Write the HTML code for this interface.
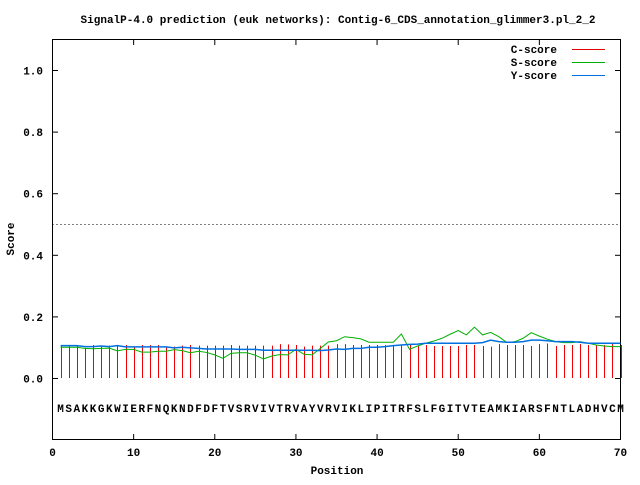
<!DOCTYPE html>
<html><head><meta charset="utf-8"><style>
body{margin:0;background:#fff}
svg text{font-family:"Liberation Mono",monospace;font-weight:bold;font-size:11px;fill:#000}
</style></head><body>
<svg id="chart" width="640" height="480" xmlns="http://www.w3.org/2000/svg">
<text x="338" y="23" text-anchor="middle">SignalP-4.0 prediction (euk networks): Contig-6_CDS_annotation_glimmer3.pl_2_2</text>
<rect x="52.5" y="39.5" width="568" height="400" fill="none" stroke="#000" stroke-width="1"/>
<g id="axes"></g>
<g id="marks"></g>
<text transform="translate(14,239) rotate(-90)" text-anchor="middle">Score</text>
<text x="337" y="474" text-anchor="middle">Position</text>
<g>
<text x="557" y="53" text-anchor="end">C-score</text>
<line x1="572" y1="49.5" x2="605" y2="49.5" stroke="#e00000"/>
<text x="557" y="66" text-anchor="end">S-score</text>
<line x1="572" y1="62.5" x2="605" y2="62.5" stroke="#00b000"/>
<text x="557" y="79" text-anchor="end">Y-score</text>
<line x1="572" y1="75.5" x2="605" y2="75.5" stroke="#0070e0"/>
</g>
</svg>
<script>
const sequence = "MSAKKGKWIERFNQKNDFDFTVSRVIVTRVAYVRVIKLIPITRFSLFGITVTEAMKIARSFNTLADHVCM";
const cScore = [0.107,0.107,0.107,0.098,0.107,0.102,0.105,0.107,0.107,0.102,0.107,0.107,0.107,0.102,0.102,0.105,0.107,0.105,0.105,0.105,0.105,0.107,0.105,0.105,0.105,0.105,0.105,0.110,0.109,0.107,0.102,0.105,0.105,0.105,0.110,
0.110,0.107,0.107,0.107,0.107,0.107,0.107,0.107,0.110,0.104,0.107,0.104,0.104,0.104,0.104,0.107,0.107,0.104,0.102,0.110,0.107,0.107,0.107,0.104,0.110,0.112,0.104,0.107,0.107,0.110,0.107,0.107,0.107,0.110,0.107];
const sZ = [142,142,142,145,146,145,144,153,148,148,156,156,154,154,149,152,158,154,157,165,175,160,158,158,166,177,168,164,165,148,163,165,145,126,122,110,113,117,127,127,127,127,102,148,138,130,123,115,103,92,105,82,105,97,110,128,125,115,98,108,118,125,128,128,125,130,135,138,140,140];
const yZ = [137,137,137,140,140,138,140,137,141,141,141,141,141,141,143,142,143,145,147,147,147,147,148,148,148,151,151,151,151,151,151,151,152,150,147,148,145,145,142,142,140,137,135,133,132,130,130,130,130,130,130,130,128,120,125,127,127,125,120,120,122,125,125,125,127,130,130,130,130,130];
const sScore = sZ.map(z => +((78 - z/3)/308).toFixed(3));
const yScore = yZ.map(z => +((78 - z/3)/308).toFixed(3));
const xTicks = [0,10,20,30,40,50,60,70];
const yTicks = [0.0,0.2,0.4,0.6,0.8,1.0];
const threshold = 0.5;

const NS="http://www.w3.org/2000/svg";
const X = v => 52.5 + v*(568/70);
const Y = v => 378 - v*308;
function mk(tag, attrs, parent){const e=document.createElementNS(NS,tag);for(const k in attrs)e.setAttribute(k,attrs[k]);parent.appendChild(e);return e;}
const axes=document.getElementById('axes'), marks=document.getElementById('marks');
xTicks.forEach(t=>{
  const x=X(t);
  const l1=mk('line',{x1:x,y1:439.5,x2:x,y2:434,stroke:'#000'},axes);
  
  
  mk('line',{x1:x,y1:39.5,x2:x,y2:45,stroke:'#000'},axes);
  const tx=mk('text',{x:x,y:456,'text-anchor':'middle'},axes);tx.textContent=t;
  
  
});
yTicks.forEach(t=>{
  const y=Y(t)+0.5;
  const l1=mk('line',{x1:52.5,y1:y,x2:58,y2:y,stroke:'#000'},axes);
  
  
  mk('line',{x1:620.5,y1:y,x2:615,y2:y,stroke:'#000'},axes);
  const tx=mk('text',{x:43,y:y+4,'text-anchor':'end'},axes);tx.textContent=t.toFixed(1);
  
  
});
const th=mk('line',{x1:52.5,y1:Y(threshold)+0.5,x2:620.5,y2:Y(threshold)+0.5,stroke:'#000','stroke-dasharray':'1,3'},axes);


cScore.forEach((v,i)=>{
  const x=Math.round(X(i+1))+0.5;
  const b=mk('line',{x1:x,y1:Y(0),x2:x,y2:Y(v),stroke:'#f00000'},marks);
  
  
});
function poly(arr,color,name,w){
  const p=mk('polyline',{points:arr.map((v,i)=>X(i+1)+','+Y(v)).join(' '),fill:'none',stroke:color,'stroke-width':w},marks);
  
  
}
poly(sScore,'#00b000','s-score-line',1);
poly(yScore,'#0070e0','y-score-line',1.5);
[...sequence].forEach((c,i)=>{
  const t=mk('text',{x:X(i+1),y:412,'text-anchor':'middle'},marks);t.textContent=c;
  
  
});
</script>
</body></html>
